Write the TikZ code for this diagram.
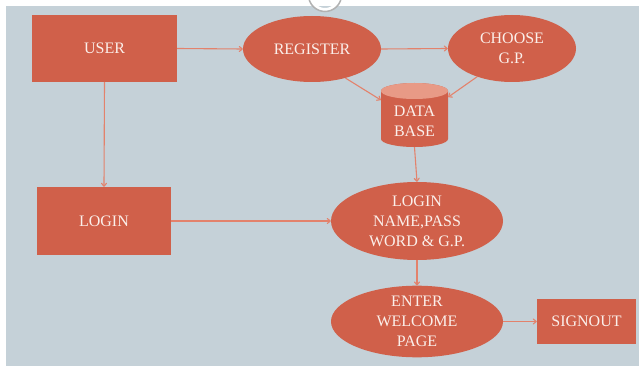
\documentclass[tikz,border=0pt]{standalone}
\usepackage{fontspec}
\setmainfont{Liberation Serif}
\usetikzlibrary{shapes.geometric,arrows.meta}
\definecolor{bgc}{HTML}{C5D1D8}
\definecolor{boxc}{HTML}{D0604A}
\definecolor{capc}{HTML}{E89A86}
\definecolor{linec}{HTML}{E3826C}
\definecolor{txtc}{HTML}{FBEFEA}
\begin{document}
\begin{tikzpicture}[x=1pt,y=-1pt,
  every node/.style={font=\fontsize{16}{20}\selectfont, text=txtc, align=center, inner sep=0pt},
  rbox/.style={rectangle, fill=boxc},
  ebox/.style={ellipse, fill=boxc},
  conn/.style={draw=linec, line width=1.1pt, -{To[length=4pt,width=6pt]}}]
\useasboundingbox (0,0) rectangle (639,366);
\fill[white] (0,0) rectangle (639,366);
\fill[bgc] (6,6) rectangle (639,366);
% loading ring artefact at top
\draw[white, line width=3pt] (325,-5) circle[radius=14.5pt];
\draw[black!30, line width=1.5pt] (325,-5) circle[radius=16.5pt];
% nodes
\node[rbox, minimum width=145pt, minimum height=67pt] (user) at (104.5,48.5) {USER};
\node[ebox, minimum width=138pt, minimum height=66pt] (register) at (312,49) {REGISTER};
\node[ebox, minimum width=128pt, minimum height=67pt] (choose) at (512,48.5) {CHOOSE\\G.P.};
% database cylinder
\fill[boxc] (381,91) -- (381,139) arc[start angle=180,end angle=360,x radius=33.5pt,y radius=8pt] -- (448,91) arc[start angle=0,end angle=180,x radius=33.5pt,y radius=8pt] -- cycle;
\fill[capc] (414.5,91) ellipse[x radius=33.5pt,y radius=8pt];
\node[rectangle, minimum width=67pt, minimum height=64pt] (db) at (414.5,115) {};
\node at (414.5,121) {DATA\\BASE};
\node[rbox, minimum width=134pt, minimum height=68pt] (login) at (104,221) {LOGIN};
\node[ebox, minimum width=172pt, minimum height=78pt] (lname) at (417,221) {LOGIN\\NAME,PASS\\WORD \& G.P.};
\node[ebox, minimum width=172pt, minimum height=67pt] (enter) at (417,321.5) {ENTER\\WELCOME\\PAGE};
\node[rbox, minimum width=99pt, minimum height=45pt] (signout) at (586.5,321.5) {SIGNOUT};
% connectors
\draw[conn] (user.east) -- (register.west);
\draw[conn] (register.east) -- (choose.west);
\draw[conn] (register.-41) -- (db.156);
\draw[conn] (choose.219) -- (db.28);
\draw[conn] (db.south) -- (lname.north);
\draw[conn] (user.south) -- (login.north);
\draw[conn] (login.east) -- (lname.west);
\draw[conn] (lname.south) -- (enter.north);
\draw[conn] (enter.east) -- (signout.west);
\end{tikzpicture}
\end{document}
